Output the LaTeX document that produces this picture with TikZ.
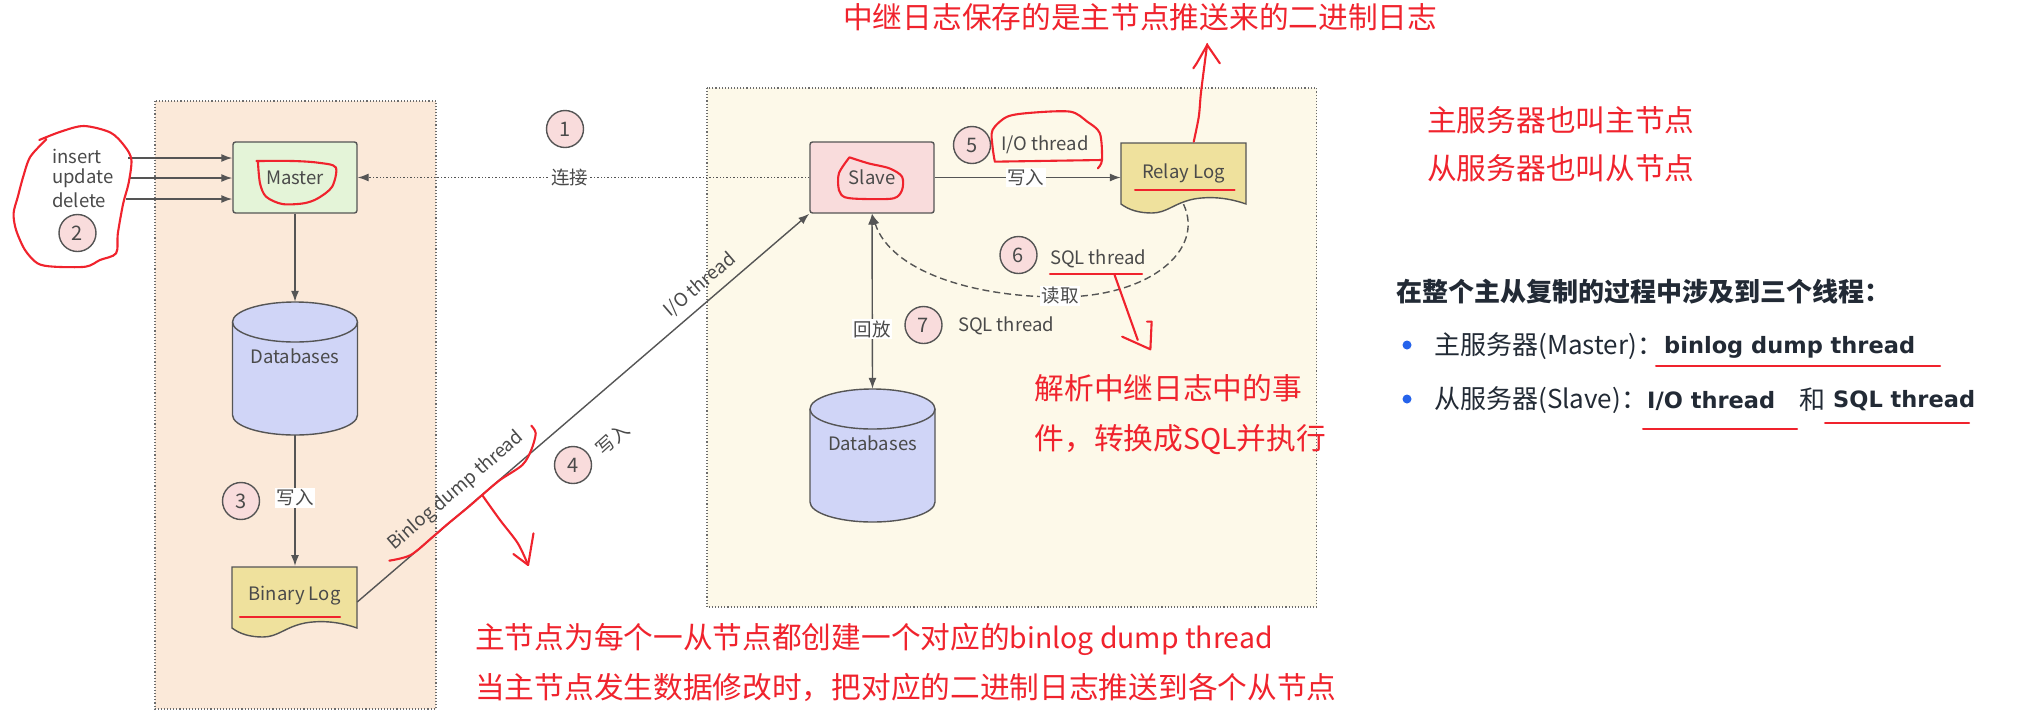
\documentclass[tikz,border=0pt]{standalone}
\usepackage{fontspec}
\setmainfont{Noto Sans CJK SC}
\newfontfamily\djv{DejaVu Sans}
\usetikzlibrary{arrows.meta}
\definecolor{inkred}{HTML}{F0232D}
\definecolor{edgegray}{HTML}{555555}
\definecolor{txtgray}{HTML}{4A4A4A}
\definecolor{panelA}{HTML}{FBE9D9}
\definecolor{panelB}{HTML}{FDF9E9}
\definecolor{mastergreen}{HTML}{E4F4D8}
\definecolor{slavepink}{HTML}{F9DCDC}
\definecolor{dbblue}{HTML}{D0D5F7}
\definecolor{logyellow}{HTML}{EFE19D}
\definecolor{darktxt}{HTML}{222A35}
\definecolor{bulletblue}{HTML}{2563EB}
\newcommand\fs[1]{\fontsize{#1}{#1}\selectfont}
\newcommand\cylshape[3]{%
 \draw[shapeline,fill=dbblue] (#1,#2+20) .. controls (#1,#2+9) and (#1+28,#2) .. (#1+62.5,#2) .. controls (#1+97,#2) and (#1+125,#2+9) .. (#1+125,#2+20) -- (#1+125,#3-20) .. controls (#1+125,#3-9) and (#1+97,#3) .. (#1+62.5,#3) .. controls (#1+28,#3) and (#1,#3-9) .. (#1,#3-20) -- cycle;
 \draw[shapeline] (#1,#2+20) .. controls (#1,#2+31) and (#1+28,#2+40) .. (#1+62.5,#2+40) .. controls (#1+97,#2+40) and (#1+125,#2+31) .. (#1+125,#2+20);}
\newcommand\docshape[2]{%
 \draw[shapeline,fill=logyellow] (#1,#2) -- (#1+125,#2) -- (#1+125,#2+61) .. controls (#1+108,#2+55) and (#1+90,#2+53) .. (#1+73,#2+56) .. controls (#1+53,#2+60) and (#1+46,#2+70) .. (#1+31,#2+70) .. controls (#1+18,#2+70) and (#1+8,#2+67) .. (#1,#2+61) -- cycle;}
\tikzset{
 panelbox/.style={draw=gray!85!black,dotted,line width=1.1pt},
 shapeline/.style={draw=edgegray,line width=1.4pt},
 flow/.style={draw=edgegray,line width=1.4pt,-{Latex[length=11pt,width=8pt]}},
 boxnode/.style={shapeline,rounded corners=2.5pt,minimum width=124pt,minimum height=71pt,inner sep=0pt,text=txtgray,font=\fs{18.5}},
 lbl/.style={text=txtgray,font=\fs{18.5},inner sep=0pt},
 lblbg/.style={lbl,fill=white,inner sep=1.5pt},
 num/.style={circle,draw=edgegray,line width=1.4pt,fill=slavepink,minimum size=37pt,inner sep=0pt,text=txtgray,font=\fs{20}},
 ghost/.style={inner sep=0pt,minimum width=125pt},
 redtext/.style={text=inkred,font=\fs{29.7},anchor=west,inner sep=0pt},
 ink/.style={draw=inkred,line width=2.1pt,line cap=round,line join=round},
 sidetxt/.style={text=darktxt,font=\fs{26},anchor=west,inner sep=0pt},
 boldtxt/.style={text=darktxt,font=\djv\bfseries\fs{22.5},anchor=west,inner sep=0pt},
 zoomA/.style={shift={(0,90)},x=0.35714pt,y=-0.33333pt},
 zoomB/.style={shift={(0,400)},x=0.44643pt,y=-0.33333pt},
 zoomC/.style={shift={(700,0)},x=0.42092pt,y=-0.33333pt},
}
\begin{document}
\begin{tikzpicture}[x=1pt,y=-1pt]
\useasboundingbox (0,0) rectangle (2033,721);
% panels
\fill[white] (0,0) rectangle (2033,721);
\draw[panelbox,fill=panelA] (155,101) rectangle (436,709);
\draw[panelbox,fill=panelB] (707,88) rectangle (1316.5,607);
% shapes
\node[boxnode,draw,fill=mastergreen] (master) at (295,177.5) {Master};
\node[boxnode,draw,fill=slavepink] (slave) at (872,177.5) {Slave};
\cylshape{232.5}{302}{435}
\cylshape{810}{389}{522}
\node[ghost,minimum height=133pt] (db1) at (295,368.5) {};
\node[ghost,minimum height=133pt] (db2) at (872.5,455.5) {};
\node[lbl] (db1t) at (295,356) {Databases};
\node[lbl] (db2t) at (872.5,443) {Databases};
\docshape{232}{567}
\docshape{1121}{143}
\node[ghost,minimum height=61pt,lbl] (binary) at (294.5,596) {Binary Log};
\node[ghost,minimum height=61pt,lbl] (relay) at (1183.5,173.5) {Relay Log};
% inputs
\node[lbl,anchor=west] (ins) at (52,156) {insert};
\node[lbl,anchor=west] (upd) at (52,178) {update};
\node[lbl,anchor=west] (del) at (52,200) {delete};
\node[num] (n2) at (77.5,233) {2};
\coordinate (i1) at (128,158);
\coordinate (i2) at (129,178);
\coordinate (i3) at (126,199);
\draw[flow] (i1) -- (master.west |- i1);
\draw[flow] (i2) -- (master.west |- i2);
\draw[flow] (i3) -- (master.west |- i3);
% connectors
\draw[flow,dotted,line width=1.2pt] (slave.west) -- node[lblbg,pos=.53] (lk) {连接} (master.east);
\draw[flow] (master.south) -- (db1.north);
\draw[flow] (db1.south) -- (295,566);
\node[lblbg] (w3) at (295,498) {写入};
\draw[flow] ([yshift=-6pt]binary.east) -- (slave.south west);
\draw[flow] (slave.east) -- node[lblbg,pos=.49] (w5) {写入} (relay.west |- slave.east);
\draw[draw=edgegray,line width=1.4pt,{Latex[length=11pt,width=8pt]}-{Latex[length=11pt,width=8pt]}] (slave.south) -- node[lblbg,pos=.66] (rp) {回放} (db2.north);
\draw[flow,dashed,dash pattern=on 7pt off 4pt] (relay.south) .. controls (1205,250) and (1150,297) .. (1060,297) .. controls (970,297) and (890,270) .. (slave.south);
\node[lblbg] (rd) at (1060,296) {读取};
% labels
\node[num] (n1) at (565,129) {1};
\node[num] (n3) at (241,501) {3};
\node[num] (n4) at (573,465) {4};
\node[num] (n5) at (972,145) {5};
\node[num] (n6) at (1018.5,255) {6};
\node[num] (n7) at (923.5,325) {7};
\node[lbl] (io5) at (1045,145) {I/O thread};
\node[lbl] (sql6) at (1098,259) {SQL thread};
\node[lbl] (sql7) at (1006,326) {SQL thread};
\node[lbl,rotate=40.7] (bdt) at (456,491) {Binlog dump thread};
\node[lbl,rotate=40.7] (iot) at (700,285) {I/O thread};
\node[lbl,rotate=42] (w4) at (612.5,439) {写入};
% side text
\node[redtext] (t1) at (843,17) {中继日志保存的是主节点推送来的二进制日志};
\node[redtext] (t2) at (475,639) {主节点为每个一从节点都创建一个对应的{\fs{28.4}binlog dump thread}};
\node[redtext] (t3) at (475,687) {当主节点发生数据修改时，把对应的二进制日志推送到各个从节点};
\node[redtext] (t4) at (1427,120) {主服务器也叫主节点};
\node[redtext] (t5) at (1427,168) {从服务器也叫从节点};
\node[redtext] (t6) at (1034.5,388) {解析中继日志中的事};
\node[redtext] (t7) at (1034.5,440) {件，转换成{\fs{28.5}SQL}并执行};
\node[sidetxt,font=\bfseries\fs{26}] (h) at (1396,292) {在整个主从复制的过程中涉及到三个线程：};
\fill[bulletblue] (1407,345) circle (4.5pt);
\fill[bulletblue] (1407,399) circle (4.5pt);
\node[sidetxt] (m1) at (1434,346) {主服务器(Master)：};
\node[sidetxt] (s1) at (1434,400) {从服务器(Slave)：};
\node[boldtxt] (b1) at (1664,347) {binlog dump thread};
\node[boldtxt] (b2) at (1647,401) {I/O thread};
\node[sidetxt] (he) at (1799,400) {和};
\node[boldtxt] (b3) at (1833,401) {SQL thread};
% straight red marks
\draw[ink] (1656,366) -- (1940,366);
\draw[ink] (1643,429) -- (1797,429);
\draw[ink] (1825,423) -- (1969,423);
\draw[ink] (240,617) -- (340,617);
\draw[ink] (1135,190) -- (1234.5,190);
\draw[ink] (1050,274) -- (1142,274);
% handwritten
\begin{scope}[zoomA]
\draw[ink] plot[smooth] coordinates {(110,150)(170,125)(235,108)(310,128)(350,170)(368,210)(360,280)(345,340)(330,430)(325,490)(280,510)(240,530)(150,530)(105,520)(70,480)(45,420)(38,370)(50,320)(65,260)(85,200)(130,148)};
\draw[ink] plot[smooth] coordinates {(718,213)(820,213)(890,218)(940,232)(930,290)(890,325)(850,340)(790,342)(745,320)(728,280)(722,213)};
\end{scope}
\begin{scope}[zoomB]
\draw[ink] plot[smooth] coordinates {(872,482)(920,465)(970,410)(1000,375)(1050,320)(1080,285)(1120,240)(1170,195)(1190,150)(1200,100)(1190,77)};
\draw[ink] plot[smooth] coordinates {(1080,285)(1120,360)(1160,430)(1183,495)};
\draw[ink] (1150,462) -- (1183,495) -- (1195,400);
\end{scope}
\begin{scope}[zoomC]
\draw[ink] plot[smooth] coordinates {(355,472)(400,490)(450,505)(480,530)(480,570)(460,595)(390,597)(345,592)(330,570)(330,520)(355,472)};
\draw[ink] plot[smooth] coordinates {(700,482)(695,440)(695,390)(730,350)(790,338)(880,335)(920,365)(950,400)(955,480)(945,505)};
\draw[ink] (700,485) -- (955,480);
\draw[ink] plot[smooth] coordinates {(1173,425)(1185,350)(1190,280)(1200,180)(1205,132)};
\draw[ink] (1172,205) -- (1180,190) -- (1205,135) -- (1235,190);
\draw[ink] (985,825) -- (1040,1020);
\draw[ink] (1003,1010) -- (1070,1048) -- (1073,965) -- (1062,965);
\end{scope}
\end{tikzpicture}
\end{document}
